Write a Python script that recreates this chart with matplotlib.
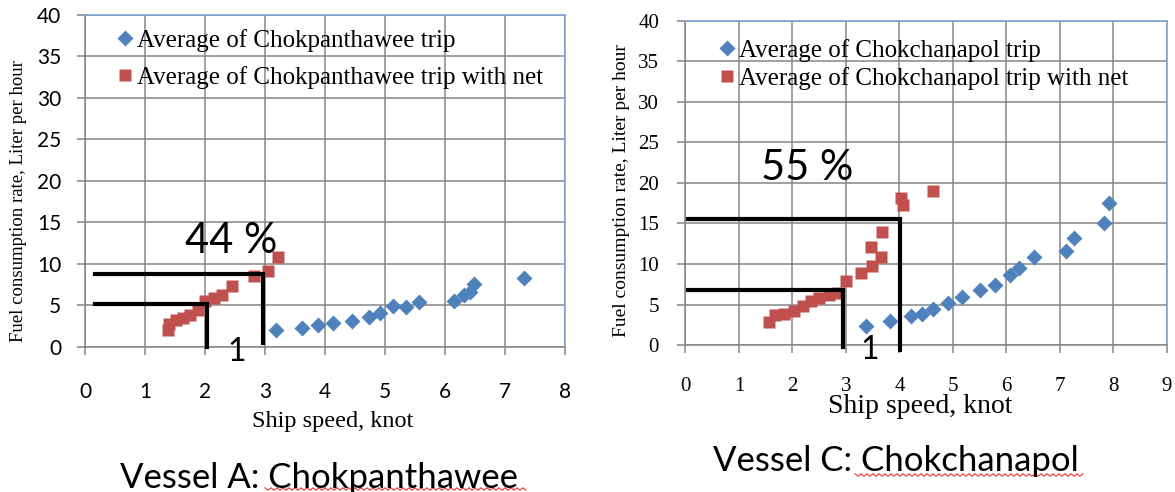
import numpy as np
import matplotlib
matplotlib.use('Agg')
import matplotlib.pyplot as plt

# Vessel A: Chokpanthawee (speed in knot, fuel in liter per hour)
a_trip_speed = [3.19, 3.61, 3.88, 4.13, 4.45, 4.73, 4.91, 5.14, 5.35, 5.57, 6.15, 6.32, 6.42, 6.48, 7.32]
a_trip_fuel = [2.0, 2.3, 2.7, 2.9, 3.1, 3.6, 4.1, 4.9, 4.8, 5.4, 5.6, 6.3, 6.6, 7.6, 8.3]
a_net_speed = [1.38, 1.40, 1.52, 1.63, 1.75, 1.88, 2.00, 2.15, 2.28, 2.45, 2.82, 3.05, 3.22]
a_net_fuel = [2.1, 2.8, 3.2, 3.5, 3.9, 4.5, 5.6, 5.9, 6.3, 7.3, 8.5, 9.2, 10.8]

# Vessel C: Chokchanapol
c_trip_speed = [3.37, 3.82, 4.22, 4.42, 4.63, 4.91, 5.16, 5.50, 5.79, 6.07, 6.24, 6.52, 7.12, 7.26, 7.82, 7.92]
c_trip_fuel = [2.3, 3.0, 3.6, 3.8, 4.5, 5.2, 5.9, 6.8, 7.4, 8.6, 9.5, 10.9, 11.6, 13.2, 15.1, 17.5]
c_net_speed = [1.56, 1.68, 1.84, 2.03, 2.19, 2.34, 2.50, 2.68, 2.85, 3.00, 3.28, 3.48, 3.66, 3.47, 3.67, 4.03, 4.06, 4.62]
c_net_fuel = [2.9, 3.7, 3.8, 4.2, 4.8, 5.4, 5.8, 6.2, 6.4, 7.9, 8.9, 9.7, 10.9, 12.1, 14.0, 18.2, 17.3, 19.0]

# speed/fuel guide lines drawn over each chart: (x start, x corner, y level, y bottom)
a_guides = [(0.17, 2.04, 5.15, 0.0), (0.17, 2.97, 8.8, 0.45)]
c_guides = [(0.05, 2.95, 6.8, -0.2), (0.05, 4.01, 15.55, -0.6)]

a_saving = '44 %'
c_saving = '55 %'

BLUE = '#4f81bd'
RED = '#c0504d'
GRID = '#868686'
SANS = 'Lato'
SERIF = 'Liberation Serif'

fig = plt.figure(figsize=(11.75, 4.92), dpi=100)


def setup(ax, xmax, tick_font, tick_size, ypad, xpad):
    ax.set_xlim(0, xmax)
    ax.set_ylim(0, 40)
    ax.set_xticks(range(0, xmax + 1))
    ax.set_yticks(range(0, 41, 5))
    ax.grid(True, color=GRID, lw=1.1)
    ax.set_axisbelow(True)
    for s in ('left', 'bottom'):
        ax.spines[s].set_color(GRID)
        ax.spines[s].set_linewidth(1.1)
    for s in ('top', 'right'):
        ax.spines[s].set_color('#7ea3d3')
        ax.spines[s].set_linewidth(1.2)
    ax.tick_params(axis='both', colors=GRID, length=6, width=1.1)
    ax.tick_params(axis='y', pad=ypad)
    ax.tick_params(axis='x', pad=xpad)
    for lab in ax.get_xticklabels() + ax.get_yticklabels():
        lab.set_fontfamily(tick_font)
        lab.set_fontsize(tick_size)
        lab.set_color('black')


def draw(ax, trip_x, trip_y, net_x, net_y, name, guides, saving, saving_xy, one_xy,
         leg_anchor, leg_spacing):
    ax.plot(trip_x, trip_y, 'D', color=BLUE, ms=8.5, mec='none',
            label='Average of %s trip' % name, zorder=3)
    ax.plot(net_x, net_y, 's', color=RED, ms=9, mec='none',
            label='Average of %s trip with net' % name, zorder=3)
    for x0, x1, y, ybot in guides:
        ax.plot([x0, x1, x1], [y, y, ybot], color='black', lw=3,
                solid_joinstyle='miter', clip_on=False, zorder=4)
    ax.text(*saving_xy, saving, fontfamily=SANS, fontsize=30,
            ha='center', va='center', zorder=5)
    ax.text(*one_xy, '1', fontfamily=SANS, fontsize=23,
            ha='center', va='center', clip_on=False, zorder=5)
    ax.legend(loc='upper left', bbox_to_anchor=leg_anchor, frameon=False,
              prop={'family': SERIF, 'size': 18}, borderpad=0, borderaxespad=0,
              handlelength=0.55, handletextpad=0.2, labelspacing=leg_spacing,
              markerscale=1.0)


ax1 = fig.add_axes([0.07234, 0.29472, 0.40851, 0.67480])
setup(ax1, 8, SANS, 15, 11, 19)
draw(ax1, a_trip_speed, a_trip_fuel, a_net_speed, a_net_fuel, 'Chokpanthawee',
     a_guides, a_saving, (2.43, 12.8), (2.52, -0.57), (0.07, 0.959), 0.58)

ax2 = fig.add_axes([0.58340, 0.29878, 0.40979, 0.65854])
setup(ax2, 9, SERIF, 15, 13, 17)
draw(ax2, c_trip_speed, c_trip_fuel, c_net_speed, c_net_fuel, 'Chokchanapol',
     c_guides, c_saving, (2.27, 21.8), (3.45, -0.62), (0.0725, 0.944), 0.18)

# axis titles
fig.text(0.0157, 0.5915, 'Fuel consumption rate, Liter per hour', rotation=90,
         fontfamily=SERIF, fontsize=13.5, ha='center', va='center')
fig.text(0.5289, 0.6118, 'Fuel consumption rate, Liter per hour', rotation=90,
         fontfamily=SERIF, fontsize=14, ha='center', va='center')
fig.text(0.2834, 0.1423, 'Ship speed, knot', fontfamily=SERIF, fontsize=17.5,
         ha='center', va='center')
fig.text(0.783, 0.1728, 'Ship speed, knot', fontfamily=SERIF, fontsize=20,
         ha='center', va='center')

# vessel captions
fig.text(0.2712, 0.028, 'Vessel A: Chokpanthawee', fontfamily=SANS, fontsize=25,
         ha='center', va='center')
fig.text(0.7626, 0.062, 'Vessel C: Chokchanapol', fontfamily=SANS, fontsize=25,
         ha='center', va='center')

# red squiggle under the vessel names
for x0, x1, y in [(265, 528, 489), (855, 1086, 475)]:
    xs = np.arange(x0, x1, 3.0)
    ys = y + np.where(np.arange(len(xs)) % 2 == 0, -1.2, 1.2)
    fig.add_artist(plt.Line2D(xs / 1175, 1 - ys / 492, color='#e8322f', lw=0.8))

fig.savefig('out.png', dpi=100)
